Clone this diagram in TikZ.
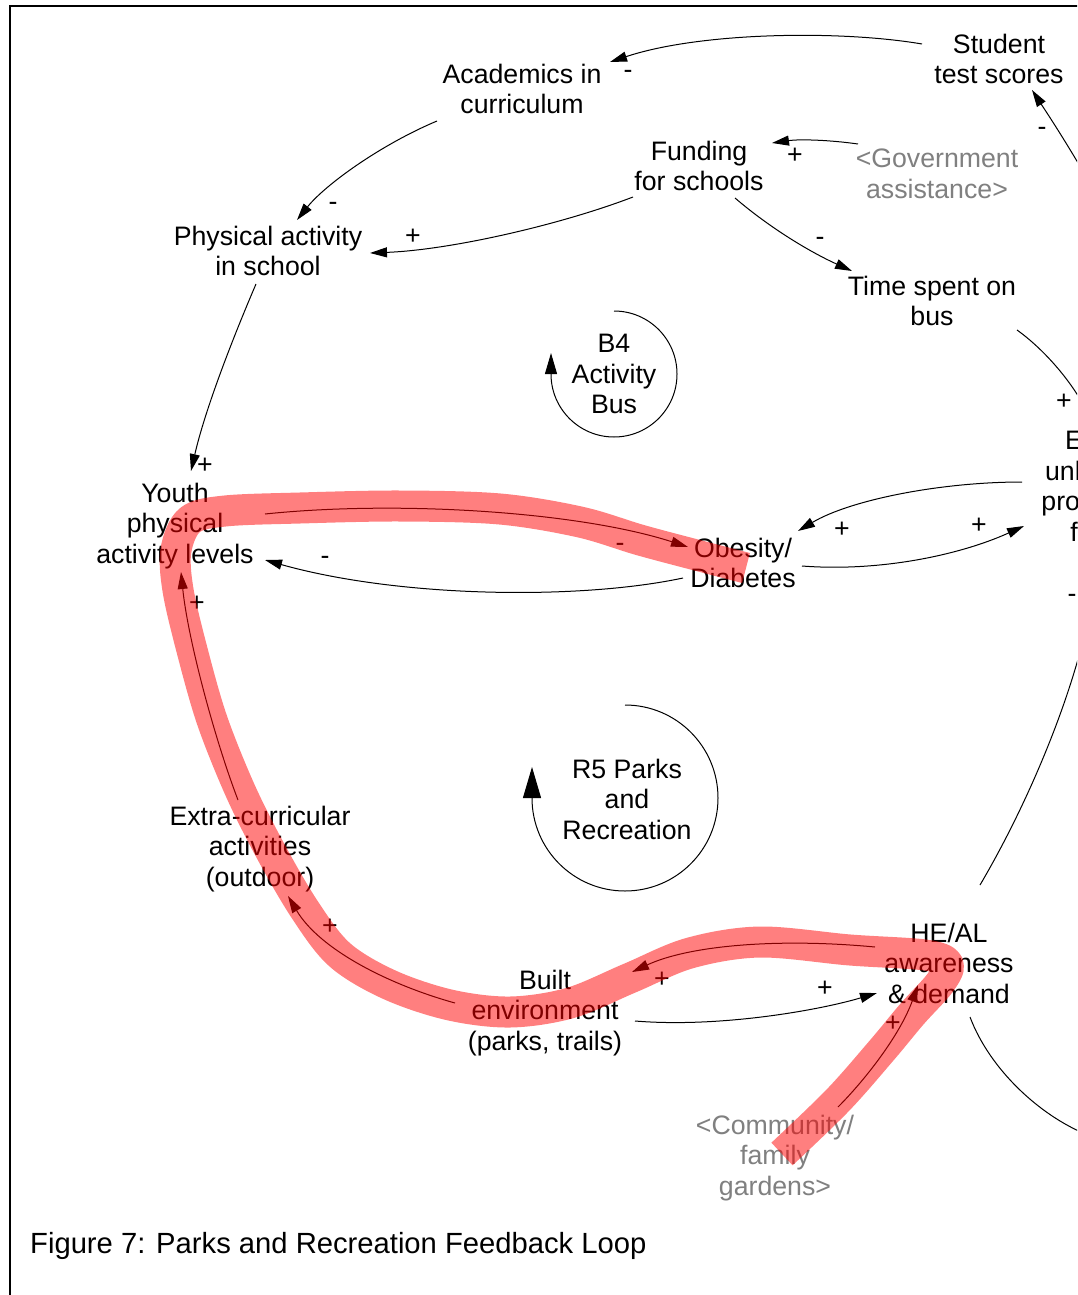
\documentclass[tikz,border=0pt]{standalone}
\usepackage{fontspec}
\setmainfont{Liberation Sans}
\usetikzlibrary{arrows.meta}
\definecolor{vargray}{RGB}{128,128,128}
\begin{document}
\begin{tikzpicture}[x=1pt,y=1pt,
  lbl/.style={align=center, inner sep=0pt, font=\fontsize{26.7}{30.5}\selectfont},
  ghost/.style={lbl, text=vargray},
  pol/.style={inner sep=0pt, font=\fontsize{26.7}{30.5}\selectfont},
  link/.style={line width=1pt, -{Triangle[length=17pt,width=10pt]}},
  loopmark/.style={line width=1pt},
  band/.style={line width=31pt, red, opacity=0.5, line join=round},
]
\useasboundingbox (0,0) rectangle (1077,-1295);
\clip (0,0) rectangle (1077,-1295);
\fill[white] (0,0) rectangle (1077,-1295);
% frame
\draw[line width=2pt] (10,-1300) -- (10,-6) -- (1090,-6);

% variables
\node[lbl] (stu)   at (999,-59)   {Student\\test scores};
\node[lbl] (acad)  at (522,-89)   {Academics in\\curriculum};
\node[lbl] (fund)  at (699,-166)  {Funding\\for schools};
\node[ghost] (gov) at (937,-174)  {<Government\\assistance>};
\node[lbl] (pas)   at (268,-251)  {Physical activity\\in school};
\node[lbl] (bus)   at (932,-301)  {Time spent on\\bus};
\node[lbl] (youth) at (175,-526)  {Youth\\physical\\activity levels};
\node[lbl] (ob)    at (743,-563)  {Obesity/\\Diabetes};
\node[lbl] (eat)   at (1103,-486) {Eating\\unhealthy\\processed\\foods};
\node[lbl] (extra) at (260,-849)  {Extra-curricular\\activities\\(outdoor)};
\node[lbl] (built) at (545,-1013) {Built\\environment\\(parks, trails)};
\node[lbl] (heal)  at (949,-963)  {HE/AL\\awareness\\\& demand};
\node[ghost] (comm) at (775,-1158) {<Community/\\family\\gardens>};
\coordinate (offA) at (1088,-180);
\coordinate (offB) at (1100,-1140);

% loop markers
\node[lbl] (b4) at (614,-374) {B4\\Activity\\Bus};
\draw[loopmark, -{Triangle[length=21pt,width=12pt]}] (614,-311) arc[start angle=90, end angle=-180, radius=63pt] -- ++(0,21);
\node[lbl] (r5) at (627,-799) {R5 Parks\\and\\Recreation};
\draw[loopmark, -{Triangle[length=31pt,width=18pt]}] (625,-705) arc[start angle=90, end angle=-180, radius=93pt] -- ++(0,31);

% causal links
\draw[link] ([shift={(-77,15)}]stu.center) .. controls (840,-30) and (700,-32) .. ([shift={(88,27)}]acad.center);
\draw[link] (offA) .. controls (1065,-140) and (1045,-110) .. ([shift={(33,-31)}]stu.center);
\draw[link] ([shift={(-85,-32)}]acad.center) .. controls (380,-145) and (325,-185) .. ([shift={(29,31)}]pas.center);
\draw[link] ([shift={(-66,-31)}]fund.center) .. controls (560,-225) and (450,-250) .. ([shift={(102,-2)}]pas.center);
\draw[link] ([shift={(-79,30)}]gov.center) .. controls (830,-140) and (800,-139) .. ([shift={(73,23)}]fund.center);
\draw[link] ([shift={(36,-32)}]fund.center) .. controls (770,-228) and (810,-252) .. ([shift={(-80,30)}]bus.center);
\draw[link] ([shift={(85,-29)}]bus.center) .. controls (1045,-350) and (1075,-385) .. ([shift={(-8,56)}]eat.center);
\draw[link] ([shift={(-12,-33)}]pas.center) .. controls (232,-340) and (205,-410) .. ([shift={(16,55)}]youth.center);
\draw[link] ([shift={(-81,4)}]eat.center) .. controls (940,-482) and (850,-500) .. ([shift={(55,32)}]ob.center);
\draw[link] ([shift={(59,-3)}]ob.center) .. controls (880,-572) and (960,-555) .. ([shift={(-79,-40)}]eat.center);
\draw[link] ([shift={(90,12)}]youth.center) .. controls (400,-500) and (580,-512) .. ([shift={(-55,16)}]ob.center);
\draw[link] ([shift={(-60,-15)}]ob.center) .. controls (580,-600) and (400,-598) .. ([shift={(90,-34)}]youth.center);
\draw[link] ([shift={(31,78)}]heal.center) .. controls (1030,-800) and (1070,-700) .. ([shift={(-13,-124)}]eat.center);
\draw[link] ([shift={(21,-54)}]heal.center) .. controls (990,-1070) and (1040,-1115) .. (offB);
\draw[link] ([shift={(90,-8)}]built.center) .. controls (720,-1028) and (820,-1010) .. ([shift={(-72,-30)}]heal.center);
\draw[link] ([shift={(-74,16)}]heal.center) .. controls (780,-938) and (690,-945) .. ([shift={(87,41)}]built.center);
\draw[link] ([shift={(-90,10)}]built.center) .. controls (390,-985) and (320,-950) .. ([shift={(28,-47)}]extra.center);
\draw[link] ([shift={(-22,49)}]extra.center) .. controls (215,-740) and (188,-640) .. ([shift={(6,-46)}]youth.center);
\draw[link] ([shift={(63,51)}]comm.center) .. controls (865,-1080) and (900,-1035) .. ([shift={(-31,-22)}]heal.center);

% polarities
\node[pol] (p1)  at (628,-74)   {-};
\node[pol] (p2)  at (1042,-131) {-};
\node[pol] (p3)  at (333,-206)  {-};
\node[pol] (p4)  at (413,-237)  {+};
\node[pol] (p5)  at (795,-156)  {+};
\node[pol] (p6)  at (820,-241)  {-};
\node[pol] (p7)  at (1064,-402) {+};
\node[pol] (p8)  at (205,-466)  {+};
\node[pol] (p9)  at (842,-530)  {+};
\node[pol] (p10) at (979,-526)  {+};
\node[pol] (p11) at (620,-547)  {-};
\node[pol] (p12) at (325,-560)  {-};
\node[pol] (p13) at (1072,-598) {-};
\node[pol] (p14) at (825,-989)  {+};
\node[pol] (p15) at (662,-980)  {+};
\node[pol] (p16) at (330,-927)  {+};
\node[pol] (p17) at (197,-604)  {+};
\node[pol] (p18) at (893,-1024) {+};

% highlighted loop
\draw[band] plot[smooth, tension=0.55] coordinates {
  (782,-1154) (838,-1100) (882,-1050) (912,-1014) (940,-983) (948,-964)
  (925,-955) (850,-950) (760,-942) (690,-953) (630,-978) (570,-1003)
  (510,-1012) (450,-1005) (390,-985) (340,-955) (305,-910) (270,-850)
  (240,-790) (212,-720) (192,-650) (178,-590) (176,-550) (190,-520)
  (225,-511) (300,-508) (400,-506) (500,-509) (580,-522) (640,-540)
  (700,-556) (746,-568)};

% caption
\node[lbl, anchor=west, font=\fontsize{29.2}{33}\selectfont] (cap) at (30,-1246) {Figure 7: Parks and Recreation Feedback Loop};
\end{tikzpicture}
\end{document}
